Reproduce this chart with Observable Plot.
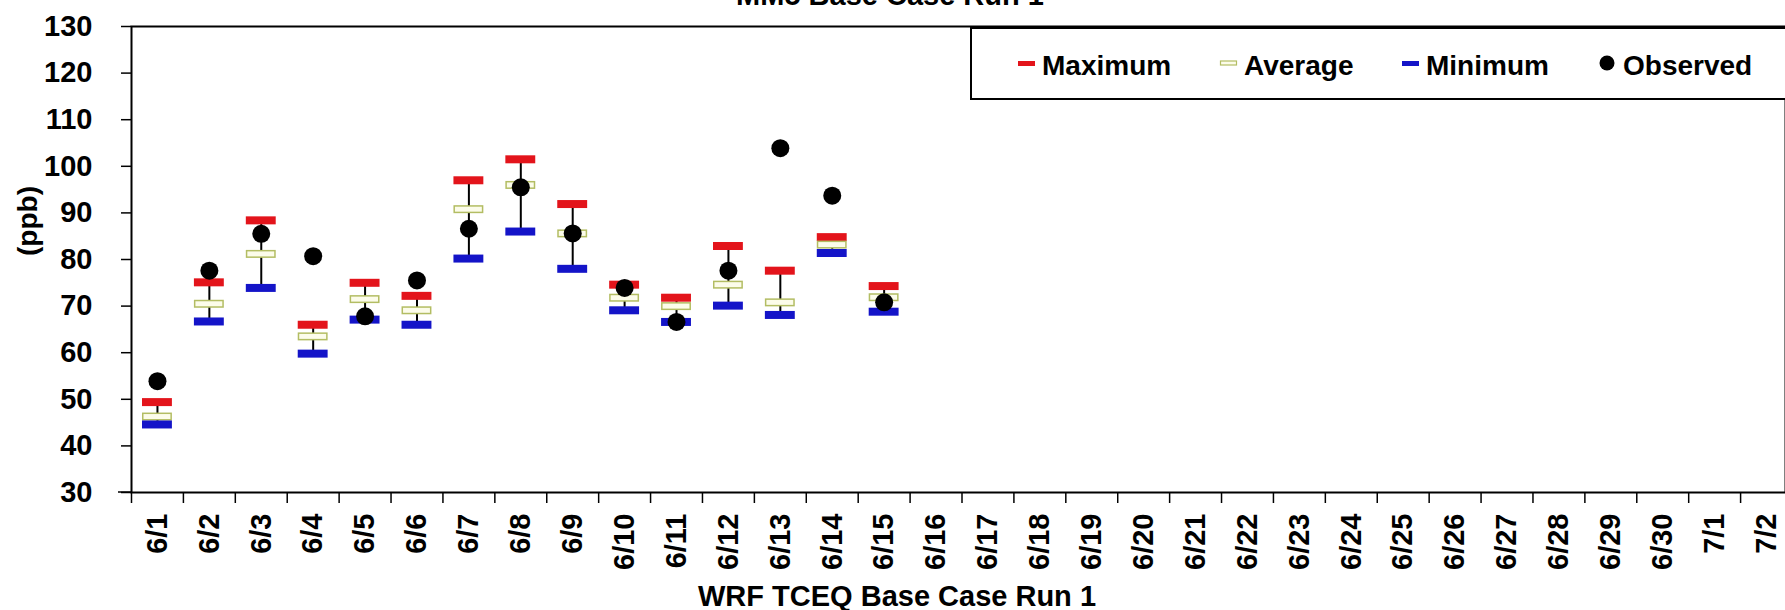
<!DOCTYPE html>
<html>
<head>
<meta charset="utf-8">
<script src="https://cdn.jsdelivr.net/npm/d3@7"></script>
<script src="https://cdn.jsdelivr.net/npm/@observablehq/plot@0.6"></script>
<style>
  html, body { margin: 0; padding: 0; background: #fff; overflow: hidden; }
  #chart svg { display: block; }
  #chart svg text { font-family: "Liberation Sans", Arial, sans-serif !important; font-weight: bold; }
</style>
</head>
<body>
<div id="chart"></div>
<script>
// ---- data ----
const categories = ["6/1","6/2","6/3","6/4","6/5","6/6","6/7","6/8","6/9","6/10","6/11","6/12","6/13","6/14","6/15","6/16","6/17","6/18","6/19","6/20","6/21","6/22","6/23","6/24","6/25","6/26","6/27","6/28","6/29","6/30","7/1","7/2"];
const days     = ["6/1","6/2","6/3","6/4","6/5","6/6","6/7","6/8","6/9","6/10","6/11","6/12","6/13","6/14","6/15"];
const maximum  = [49.4, 75.1, 88.4, 66.0, 75.0, 72.2, 97.0, 101.5, 91.9, 74.6, 71.8, 82.9, 77.6, 84.8, 74.3];
const average  = [46.3, 70.5, 81.2, 63.5, 71.5, 69.1, 90.8, 96.0, 85.6, 71.8, 70.0, 74.6, 70.8, 83.2, 71.9];
const minimum  = [44.6, 66.7, 73.9, 59.8, 67.1, 66.0, 80.2, 86.0, 78.0, 69.1, 66.6, 70.1, 68.1, 81.4, 68.8];
const observed = [53.9, 77.6, 85.5, 80.7, 67.8, 75.5, 86.6, 95.5, 85.6, 73.9, 66.6, 77.6, 103.9, 93.7, 70.8];
const yTicks   = [30, 40, 50, 60, 70, 80, 90, 100, 110, 120, 130];
const seriesNames = ["Maximum", "Average", "Minimum", "Observed"];
const chartTitle = "MM5 Base Case Run 1";
const xTitle = "WRF TCEQ Base Case Run 1";
const yTitle = "(ppb)";

const table = days.map((d, i) => ({date: d, max: maximum[i], avg: average[i], min: minimum[i], obs: observed[i]}));

const RED = "#e3141b", BLUE = "#1414c8", GREEN = "#b3bd63", PALE = "#fcfcea";
const FONT = "Liberation Sans, Arial, sans-serif";
const W = 1785, H = 610;
const X0 = 131, X1 = 1792;
const BW = (X1 - X0) / categories.length;

const plot = Plot.plot({
  width: W,
  height: H,
  marginTop: 26,
  marginBottom: 118,
  marginLeft: X0,
  marginRight: 0,
  style: {fontFamily: FONT, fontWeight: "bold", fontSize: "28px", color: "#000", background: "#fff", overflow: "visible"},
  x: {type: "band", domain: categories, range: [X0, X1], padding: 0, round: false, axis: null},
  y: {domain: [30, 130], range: [492, 26]},
  marks: [
    Plot.axisY({ticks: yTicks, tickSize: 10, tickPadding: 29, strokeWidth: 1.5, fontSize: 29, fontFamily: FONT, label: null}),
    Plot.ruleX(categories, {x: d => d, dx: -BW / 2, insetTop: 466, insetBottom: -11, stroke: "#000", strokeWidth: 1.5}),
    Plot.text(categories, {x: d => d, y: () => 30, text: d => d, rotate: -90, textAnchor: "end", lineAnchor: "middle", dy: 21, fontSize: 29, fontFamily: FONT}),
    Plot.frame({stroke: "#000", strokeWidth: 2}),
    Plot.ruleX(table, {x: "date", y1: "min", y2: "max", stroke: "#000", strokeWidth: 2}),
    Plot.tickY(table, {x: "date", y: "max", stroke: RED, strokeWidth: 8, inset: 11}),
    Plot.tickY(table, {x: "date", y: "avg", stroke: GREEN, strokeWidth: 8, inset: 11}),
    Plot.tickY(table, {x: "date", y: "avg", stroke: PALE, strokeWidth: 5, inset: 12.5}),
    Plot.tickY(table, {x: "date", y: "min", stroke: BLUE, strokeWidth: 8, inset: 11}),
    Plot.dot(table, {x: "date", y: "obs", r: 9, fill: "#000", stroke: "none"}),
    Plot.text([chartTitle], {text: d => d, frameAnchor: "top", dx: 893 - (X0 + X1) / 2, dy: -22, lineAnchor: "bottom", fontSize: 29, fontFamily: FONT}),
    Plot.text([xTitle], {text: d => d, frameAnchor: "bottom", dx: 900 - (X0 + X1) / 2, dy: 113, lineAnchor: "bottom", fontSize: 29, fontFamily: FONT})
  ]
});

document.getElementById("chart").appendChild(plot);

const svg = d3.select(plot);

// extend x axis line left under the y ticks
svg.append("line").attr("x1", 118).attr("x2", X0).attr("y1", 492).attr("y2", 492).attr("stroke", "#000").attr("stroke-width", 1.5);

// y axis title
svg.append("text")
  .attr("transform", "translate(37,221) rotate(-90)")
  .attr("text-anchor", "middle")
  .attr("font-size", 28)
  .text(yTitle);

// legend
const lg = svg.append("g").attr("text-anchor", "start");
lg.append("rect").attr("x", 971).attr("y", 28).attr("width", 840).attr("height", 71)
  .attr("fill", "#fff").attr("stroke", "#000").attr("stroke-width", 2);
const items = [
  {name: seriesNames[0], kind: "bar", color: RED, x: 1018},
  {name: seriesNames[1], kind: "hollow", color: GREEN, x: 1220},
  {name: seriesNames[2], kind: "bar", color: BLUE, x: 1402},
  {name: seriesNames[3], kind: "dot", color: "#000", x: 1599}
];
items.forEach(it => {
  if (it.kind === "bar") {
    lg.append("rect").attr("x", it.x).attr("y", 61).attr("width", 17).attr("height", 5).attr("fill", it.color);
  } else if (it.kind === "hollow") {
    lg.append("rect").attr("x", it.x + 0.5).attr("y", 61).attr("width", 16).attr("height", 4).attr("fill", PALE).attr("stroke", it.color).attr("stroke-width", 1.2);
  } else {
    lg.append("circle").attr("cx", it.x + 8).attr("cy", 63).attr("r", 7.5).attr("fill", it.color);
  }
  lg.append("text").attr("x", it.x + 24).attr("y", 75).attr("font-size", 28).text(it.name);
});

svg.selectAll("text").attr("font-family", FONT).attr("font-weight", "bold");
</script>
</body>
</html>
